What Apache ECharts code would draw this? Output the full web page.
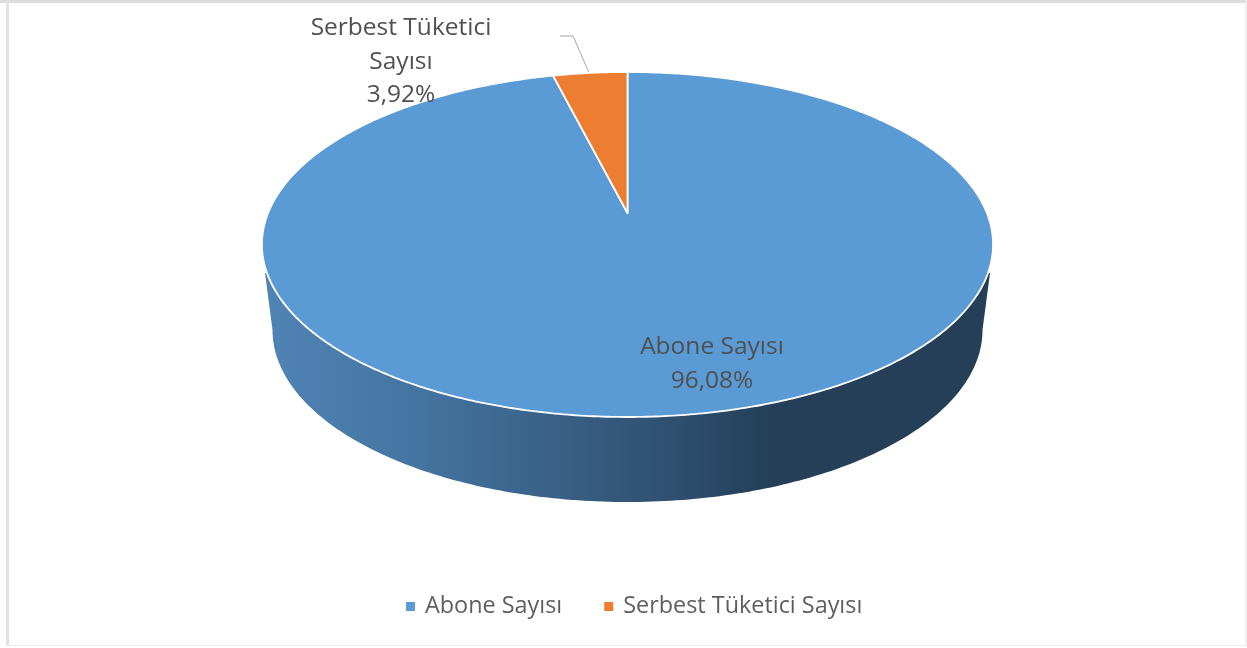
<!DOCTYPE html>
<html><head><meta charset="utf-8">
<style>html,body{margin:0;padding:0;background:#fff}#c{width:1247px;height:648px}</style>
<script src="https://cdn.jsdelivr.net/npm/echarts@6/dist/echarts.min.js"></script>
</head><body><div id="c"></div>
<script>
const categories = ['Abone Sayısı', 'Serbest Tüketici Sayısı'];
const shares = [96.08, 3.92];
const colors = ['#5B9BD5', '#ED7D31'];

// perspective pie geometry
const P = {x0: 627.5, y0: 213, A: 359.4, B: 166.75, k: 0.1826};
const WALL = {cx: 627.5, cy: 330, rx: 355, ry: 172, topY: 273, topL: 265, topR: 990};
const total = shares.reduce((a, b) => a + b, 0);
function rim(t) {
  const u = Math.sin(t), v = -Math.cos(t), w = 1 - P.k * v;
  return [P.x0 + P.A * u / w, P.y0 + P.B * v / w];
}
function startOf(i) {
  let s = 0;
  for (let j = 0; j < i; j++) s += shares[j];
  return s;
}
function fmt(v) { return v.toFixed(2).replace('.', ',') + '%'; }

function sliceItem(i) {
  return function (params, api) {
    const val = api.value(0);
    const a0 = startOf(i) / total * Math.PI * 2;
    const a1 = a0 + val / total * Math.PI * 2;
    const pts = [[P.x0, P.y0]];
    const n = Math.max(4, Math.ceil((a1 - a0) / 0.01));
    for (let s = 0; s <= n; s++) pts.push(rim(a0 + (a1 - a0) * s / n));
    const children = [];
    if (a0 < Math.PI && a1 > Math.PI) {
      const wp = [];
      for (let d = 0; d <= 180; d += 1) {
        const r = d * Math.PI / 180;
        wp.push([WALL.cx - WALL.rx * Math.cos(r), WALL.cy + WALL.ry * Math.sin(r)]);
      }
      wp.push([WALL.topR, WALL.topY], [WALL.topL, WALL.topY]);
      children.push({
        type: 'polygon', shape: {points: wp},
        style: {fill: new echarts.graphic.LinearGradient(0, 0, 1, 0, [
          {offset: 0, color: '#5084B5'},
          {offset: 0.19, color: '#4576A3'},
          {offset: 0.39, color: '#3A6288'},
          {offset: 0.6, color: '#2C4B69'},
          {offset: 0.7, color: '#243F57'},
          {offset: 1, color: '#243F57'}
        ])}
      });
    }
    children.push({
      type: 'polygon', shape: {points: pts},
      style: {fill: colors[i], stroke: '#fff', lineWidth: 1.8, lineJoin: 'round'}
    });
    return {type: 'group', children};
  };
}

const labelFont = {fontFamily: 'Open Sans', fontSize: 24.5, fill: '#505050', align: 'center', verticalAlign: 'middle'};
const axisLabels = [
  {x: 712, y: 347, t: categories[0]},
  {x: 712, y: 381, t: fmt(shares[0])},
  {x: 401, y: 28, t: 'Serbest Tüketici'},
  {x: 401, y: 62, t: 'Sayısı'},
  {x: 401, y: 95, t: fmt(shares[1])}
];

const chart = echarts.init(document.getElementById('c'), null, {renderer: 'canvas'});
chart.setOption({
  animation: false,
  backgroundColor: '#fff',
  legend: {
    data: categories, left: 406, top: 595, padding: 0, icon: 'rect',
    itemWidth: 9, itemHeight: 9, itemGap: 42,
    textStyle: {fontFamily: 'Open Sans', fontSize: 23.4, color: '#5e5e5e', padding: [0, 0, 0, 5]}
  },
  series: categories.map((name, i) => ({
    type: 'custom', name, coordinateSystem: 'none', silent: true,
    itemStyle: {color: colors[i]},
    data: [{name, value: [shares[i]]}],
    renderItem: sliceItem(i)
  })),
  graphic: [
    {type: 'rect', silent: true, shape: {x: 0, y: 0, width: 1247, height: 3}, style: {fill: '#dcdcdc'}},
    {type: 'rect', silent: true, shape: {x: 6, y: 0, width: 3, height: 646}, style: {fill: '#e2e2e2'}},
    {type: 'rect', silent: true, shape: {x: 1245, y: 0, width: 2, height: 646}, style: {fill: '#efefef'}},
    {type: 'rect', silent: true, shape: {x: 6, y: 645, width: 1241, height: 1}, style: {fill: '#ececec'}},
    {type: 'polyline', silent: true, shape: {points: [[560, 36], [573, 36], [590, 75]]}, style: {stroke: '#a6a6a6', lineWidth: 1, fill: null}},
  ].concat(axisLabels.map(l => ({
    type: 'text', silent: true, z: 100, x: l.x, y: l.y,
    style: Object.assign({text: l.t}, labelFont)
  })))
});
</script></body></html>
